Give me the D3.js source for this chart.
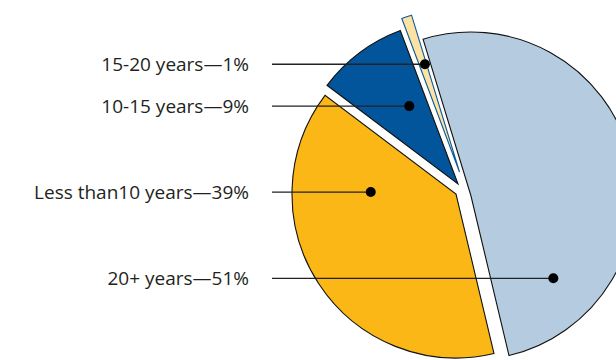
<!DOCTYPE html>
<html><head><meta charset="utf-8">
<script src="https://cdn.jsdelivr.net/npm/d3@7"></script>
<style>html,body{margin:0;padding:0;background:#fff;}svg{display:block;}</style>
</head><body>
<script>
// ---- data ----
const categories = ["20+ years", "Less than10 years", "10-15 years", "15-20 years"];
const shares = [51, 39, 9, 1];
const labels = ["20+ years\u201451%", "Less than10 years\u201439%", "10-15 years\u20149%", "15-20 years\u20141%"];

// ---- layout / style ----
const W = 616, H = 360;
const center = [462, 190];
const radius = 164;
const startDeg = -17;
const sliceShift = [[9, 6], [-6, 4], [-4, -6], [-2.5, -18]];   // exploded offsets
const fills = ["#b5cce0", "#fbb715", "#02559a", "#fde3a3"];
const strokes = ["#111", "#111", "#111", "#0a5aa0"];
const calloutAngle = [135, 271.3, 328, 342.2];   // degrees, within each slice
const calloutFrac = [0.71, 0.52, 0.56, 0.69];
const labelRight = 249, lineStart = 272;

const svg = d3.select("body").append("svg").attr("width", W).attr("height", H);

const pie = d3.pie().sort(null).value(d => d)
  .startAngle(startDeg * Math.PI / 180).endAngle((startDeg + 360) * Math.PI / 180);
const arcs = pie(shares);
const arc = d3.arc().innerRadius(0).outerRadius(radius);

const g = svg.append("g");
g.selectAll("path").data(arcs).join("path")
  .attr("transform", (d, i) => `translate(${center[0] + sliceShift[i][0]},${center[1] + sliceShift[i][1]})`)
  .attr("d", arc)
  .attr("fill", (d, i) => fills[i])
  .attr("stroke", (d, i) => strokes[i])
  .attr("stroke-width", 1.1)
  .attr("stroke-linejoin", "miter");

// callouts
const pts = arcs.map((d, i) => {
  const a = calloutAngle[i] * Math.PI / 180, r = radius * calloutFrac[i];
  return [center[0] + sliceShift[i][0] + r * Math.sin(a), center[1] + sliceShift[i][1] - r * Math.cos(a)];
});

const c = svg.append("g");
c.selectAll("line").data(pts).join("line")
  .attr("x1", lineStart).attr("x2", d => d[0])
  .attr("y1", d => d[1]).attr("y2", d => d[1])
  .attr("stroke", "#222").attr("stroke-width", 1.3);
c.selectAll("circle").data(pts).join("circle")
  .attr("cx", d => d[0]).attr("cy", d => d[1]).attr("r", 5).attr("fill", "#000");
c.selectAll("text").data(pts).join("text")
  .attr("x", labelRight).attr("y", d => d[1] + 6.5)
  .attr("text-anchor", "end")
  .attr("font-family", "'Open Sans', sans-serif")
  .attr("font-size", 19)
  .attr("fill", "#231f20")
  .text((d, i) => labels[i]);
</script>
</body></html>
